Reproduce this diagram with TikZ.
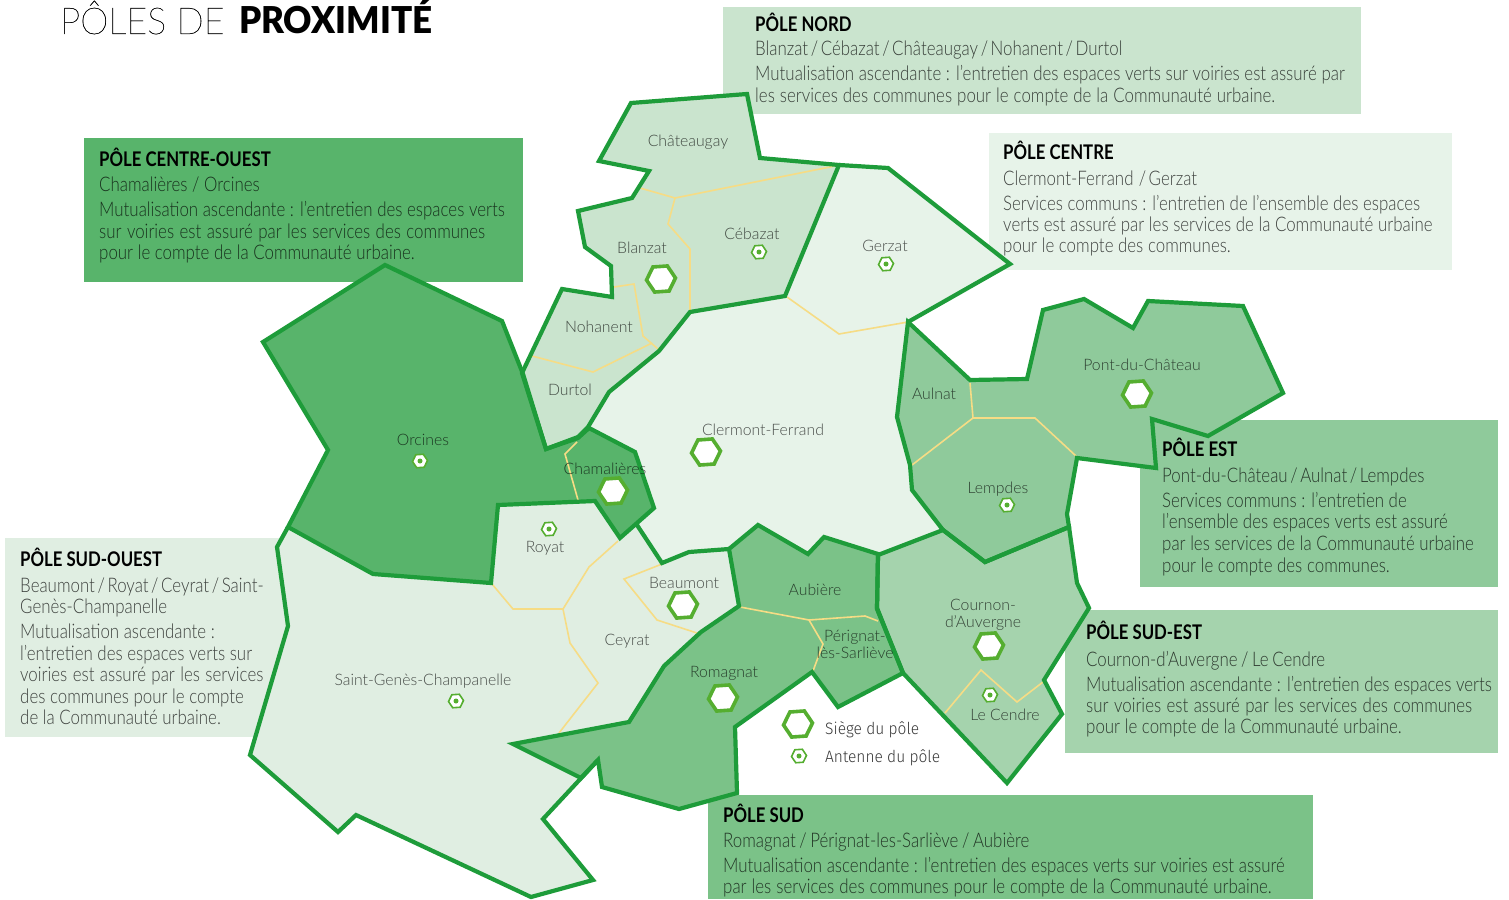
\documentclass[tikz,border=0pt]{standalone}
\usepackage{fontspec}
\usetikzlibrary{shapes.geometric}
\newfontfamily\bodyf{Lato Light}[FakeStretch=0.84]
\newfontfamily\headf{Lato}[FakeStretch=0.83,BoldFont={Lato Bold}]
\newfontfamily\labf{Lato Light}
\newfontfamily\thinf{Lato Thin}[FakeStretch=0.97,FakeBold=0.5]
\newfontfamily\blackf{Lato Black}[FakeStretch=0.945]
\newfontfamily\legf{Fira Sans Light}[FakeStretch=0.94]
\definecolor{cNord}{HTML}{CAE4CE}
\definecolor{cCentre}{HTML}{E7F3E9}
\definecolor{cCO}{HTML}{58B46B}
\definecolor{cSO}{HTML}{E0EEE2}
\definecolor{cEst}{HTML}{8FCA9B}
\definecolor{cSE}{HTML}{A5D3AD}
\definecolor{cSud}{HTML}{7BC288}
\definecolor{bord}{HTML}{1E9C3A}
\definecolor{yel}{HTML}{F6DC85}
\definecolor{hexc}{HTML}{55AE30}
\tikzset{
  pole/.style={draw=bord,line width=4.2pt,miter limit=10,line join=miter},
  lim/.style={draw=yel,line width=1.6pt},
  siege/.style={regular polygon,regular polygon sides=6,draw=hexc,fill=white,line width=3.6pt,inner sep=0pt,minimum size=29pt,shape border rotate=4},
  antenne/.style={regular polygon,regular polygon sides=6,draw=hexc,fill=white,line width=1.6pt,inner sep=0pt,minimum size=15pt,shape border rotate=4,
    path picture={\fill[hexc] (path picture bounding box.center) circle (2.5pt);}},
  lab/.style={font=\labf\fontsize{15.8}{17}\selectfont,text=black,text opacity=.68,align=center,inner sep=0pt,text height=10.5pt,text depth=.5pt},
  head/.style={anchor=base west,inner sep=0pt,font=\headf\bfseries\fontsize{20.2}{22}\selectfont,text=black},
  body/.style={anchor=base west,inner sep=0pt,font=\bodyf\fontsize{20.1}{22}\selectfont,text=black,text opacity=.72},
  cities/.style={body,execute at begin node={\spaceskip=2.6pt}},
  citiesB/.style={body,execute at begin node={\spaceskip=3.6pt}},
  wideA/.style={body,execute at begin node={\spaceskip=5pt}},
  wideB/.style={body,execute at begin node={\spaceskip=5.4pt}},
  leg/.style={anchor=base west,inner sep=0pt,font=\legf\fontsize{16.5}{18}\selectfont,text=black!78},
}
\begin{document}
\begin{tikzpicture}[x=1pt,y=-1pt]
\useasboundingbox (0,0) rectangle (1509,899);
% info boxes
\fill[cNord] (723,7) rectangle (1361,114);
\fill[cCentre] (989,133) rectangle (1452,270);
\fill[cCO] (84,138) rectangle (523,282);
\fill[cSO] (5,538) rectangle (290,737);
\fill[cEst] (1140,420) rectangle (1498,587);
\fill[cSE] (1065,610) rectangle (1498,753);
\fill[cSud] (708,795) rectangle (1313,899);
% poles
\path[fill=cSO] (288,527) -- (277,547) -- (288,626) -- (250,755) -- (338,832) -- (356,815) -- (531,897) -- (593,880) -- (543,819) -- (598,760) -- (581,778) -- (513,744) -- (629,722) -- (664,666) -- (701,632) -- (739,606) -- (729,549) -- (689,552) -- (662,563) -- (637,525) -- (620,538) -- (595,501) -- (498,505) -- (491,583) -- (373,574) -- cycle;
\path[fill=cCentre] (839,165) -- (888,168) -- (1010,264) -- (908,322) -- (897,417) -- (910,465) -- (912,490) -- (943,530) -- (878,555) -- (824,537) -- (808,554) -- (758,525) -- (729,549) -- (689,552) -- (662,563) -- (637,525) -- (654,508) -- (635,452) -- (589,428) -- (609,392) -- (659,351) -- (690,312) -- (785,296) -- cycle;
\path[fill=cNord] (631,103) -- (747,94) -- (760,158) -- (839,165) -- (785,296) -- (690,312) -- (659,351) -- (609,392) -- (588,427) -- (578,437) -- (546,449) -- (522,373) -- (562,289) -- (612,297) -- (611,266) -- (585,247) -- (578,211) -- (632,198) -- (649,171) -- (599,161) -- cycle;
\path[fill=cCO] (385,265) -- (502,321) -- (523,374) -- (546,449) -- (578,438) -- (589,428) -- (635,452) -- (654,508) -- (620,538) -- (595,501) -- (498,505) -- (491,583) -- (373,574) -- (288,527) -- (328,450) -- (263,342) -- cycle;
\path[fill=cEst] (908,322) -- (970,380) -- (1027,379) -- (1043,310) -- (1084,299) -- (1133,328) -- (1148,301) -- (1243,306) -- (1283,393) -- (1208,436) -- (1152,419) -- (1156,468) -- (1077,458) -- (1067,514) -- (1069,527) -- (985,562) -- (943,530) -- (912,490) -- (910,465) -- (897,417) -- cycle;
\path[fill=cSE] (943,530) -- (985,562) -- (1069,527) -- (1077,583) -- (1089,608) -- (1044,680) -- (1062,714) -- (1007,783) -- (903,673) -- (877,608) -- (878,555) -- cycle;
\path[fill=cSud] (729,549) -- (758,525) -- (808,554) -- (824,537) -- (878,554) -- (877,609) -- (903,673) -- (838,707) -- (812,672) -- (735,727) -- (737,793) -- (679,809) -- (602,787) -- (598,760) -- (581,778) -- (513,744) -- (629,722) -- (664,666) -- (701,632) -- (739,606) -- cycle;
% commune limits
\draw[lim] (640,188) -- (675,198) -- (835,166);
\draw[lim] (675,198) -- (668,224) -- (690,249) -- (690,310);
\draw[lim] (614,287) -- (634,284) -- (643,336) -- (658,349);
\draw[lim] (652,343) -- (593,372) -- (532,356);
\draw[lim] (787,297) -- (839,334) -- (908,322);
\draw[lim] (970,383) -- (973,418) -- (912,465);
\draw[lim] (973,418) -- (1035,418) -- (1076,456);
\draw[lim] (945,713) -- (981,670) -- (1017,702) -- (1043,682);
\draw[lim] (740,607) -- (809,620) -- (865,616) -- (878,621);
\draw[lim] (809,620) -- (823,644) -- (813,671);
\draw[lim] (492,584) -- (513,609) -- (563,609) -- (589,567) -- (618,541);
\draw[lim] (563,609) -- (570,643) -- (598,683) -- (559,733);
\draw[lim] (662,564) -- (624,579) -- (657,620) -- (697,633);
\draw[lim] (577,442) -- (565,454) -- (578,500);
% pole outlines
\draw[pole] (288,527) -- (277,547) -- (288,626) -- (250,755) -- (338,832) -- (356,815) -- (531,897) -- (593,880) -- (543,819) -- (598,760);
\draw[pole] (839,165) -- (888,168) -- (1010,264) -- (908,322);
\draw[pole] (637,525) -- (662,563) -- (689,552) -- (729,549);
\draw[pole] (631,103) -- (747,94) -- (760,158) -- (839,165) -- (785,296) -- (690,312) -- (659,351) -- (609,392) -- (588,427) -- (578,437) -- (546,449) -- (522,373) -- (562,289) -- (612,297) -- (611,266) -- (585,247) -- (578,211) -- (632,198) -- (649,171) -- (599,161) -- cycle;
\draw[pole] (385,265) -- (502,321) -- (523,374) -- (546,449) -- (578,438) -- (589,428) -- (635,452) -- (654,508) -- (620,538) -- (595,501) -- (498,505) -- (491,583) -- (373,574) -- (288,527) -- (328,450) -- (263,342) -- cycle;
\draw[pole] (908,322) -- (970,380) -- (1027,379) -- (1043,310) -- (1084,299) -- (1133,328) -- (1148,301) -- (1243,306) -- (1283,393) -- (1208,436) -- (1152,419) -- (1156,468) -- (1077,458) -- (1067,514) -- (1069,527) -- (985,562) -- (943,530) -- (912,490) -- (910,465) -- (897,417) -- cycle;
\draw[pole] (943,530) -- (985,562) -- (1069,527) -- (1077,583) -- (1089,608) -- (1044,680) -- (1062,714) -- (1007,783) -- (903,673) -- (877,608) -- (878,555) -- cycle;
\draw[pole] (729,549) -- (758,525) -- (808,554) -- (824,537) -- (878,554) -- (877,609) -- (903,673) -- (838,707) -- (812,672) -- (735,727) -- (737,793) -- (679,809) -- (602,787) -- (598,760) -- (581,778) -- (513,744) -- (629,722) -- (664,666) -- (701,632) -- (739,606) -- cycle;
% markers
\node[siege] (hBlanzat) at (661,279) {};
\node[siege] (hClermont) at (706,452) {};
\node[siege] (hChamalieres) at (613,491) {};
\node[siege] (hBeaumont) at (683,605) {};
\node[siege] (hRomagnat) at (723,698) {};
\node[siege] (hPont) at (1137,394) {};
\node[siege] (hCournon) at (989,646) {};
\node[siege,fill=none] (hLeg) at (798,724) {};
\node[antenne] (aCebazat) at (759,252) {};
\node[antenne] (aGerzat) at (886,264) {};
\node[antenne] (aOrcines) at (420,461) {};
\node[antenne] (aRoyat) at (549,529) {};
\node[antenne] (aSaint) at (456,701) {};
\node[antenne] (aLempdes) at (1007,505) {};
\node[antenne] (aCendre) at (990,695) {};
\node[antenne] (aLeg) at (799,756) {};
% commune labels
\node[lab] (lChateaugay) at (688,141) {Châteaugay};
\node[lab] (lCebazat) at (752,234) {Cébazat};
\node[lab] (lBlanzat) at (642,248) {Blanzat};
\node[lab] (lGerzat) at (885,246) {Gerzat};
\node[lab] (lNohanent) at (599,327) {Nohanent};
\node[lab] (lDurtol) at (570,390) {Durtol};
\node[lab] (lClermont) at (763,430) {Clermont-Ferrand};
\node[lab] (lAulnat) at (934,394) {Aulnat};
\node[lab] (lPont) at (1142,365) {Pont-du-Château};
\node[lab] (lLempdes) at (998,488) {Lempdes};
\node[lab] (lOrcines) at (423,440) {Orcines};
\node[lab] (lChamalieres) at (605,469) {Chamalières};
\node[lab] (lRoyat) at (545,547) {Royat};
\node[lab] (lBeaumont) at (684,583) {Beaumont};
\node[lab] (lCeyrat) at (627,640) {Ceyrat};
\node[lab] (lAubiere) at (815,590) {Aubière};
\node[lab] (lPerignat) at (855,653) {Pérignat-\\lès-Sarliève};
\node[lab] (lCournon) at (983,622) {Cournon-\\d’Auvergne};
\node[lab] (lRomagnat) at (724,672) {Romagnat};
\node[lab] (lCendre) at (1005,715) {Le Cendre};
\node[lab] (lSaint) at (423,680) {Saint-Genès-Champanelle};
% legend
\node[leg] (tSiege) at (825,734) {Siège du pôle};
\node[leg] (tAntenne) at (825,762) {Antenne du pôle};
% title
\node[anchor=base west,inner sep=0pt,font=\thinf\fontsize{37}{40}\selectfont,text=black] (titleA) at (60,34) {PÔLES DE};
\node[anchor=base west,inner sep=0pt,font=\blackf\fontsize{37}{40}\selectfont,text=black] (titleB) at (239,34) {PROXIMITÉ};
% texts: Nord
\node[head] (n0) at (755,31.5) {PÔLE NORD};
\node[cities] (n1) at (755,56) {Blanzat / Cébazat / Châteaugay / Nohanent / Durtol};
\node[body] (n2) at (755,81) {Mutualisation ascendante : l’entretien des espaces verts sur voiries est assuré par};
\node[wideA] (n3) at (755,102) {les services des communes pour le compte de la Communauté urbaine.};
% Centre
\node[head] (c0) at (1003,159) {PÔLE CENTRE};
\node[cities] (c1) at (1003,185) {Clermont-Ferrand~ / Gerzat};
\node[body] (c2) at (1003,210) {Services communs : l’entretien de l’ensemble des espaces};
\node[body] (c3) at (1003,231) {verts est assuré par les services de la Communauté urbaine};
\node[body] (c4) at (1003,252) {pour le compte des communes.};
% Centre-ouest
\node[head] (o0) at (99,166) {PÔLE CENTRE-OUEST};
\node[body] (o1) at (99,191) {Chamalières / Orcines};
\node[body] (o2) at (99,216) {Mutualisation ascendante : l’entretien des espaces verts};
\node[wideB] (o3) at (99,238) {sur voiries est assuré par les services des communes};
\node[body] (o4) at (99,259) {pour le compte de la Communauté urbaine.};
% Sud-ouest
\node[head] (s0) at (20,566) {PÔLE SUD-OUEST};
\node[cities] (s1) at (20,592) {Beaumont / Royat / Ceyrat / Saint-};
\node[body] (s2) at (20,613) {Genès-Champanelle};
\node[body] (s3) at (20,638) {Mutualisation ascendante :};
\node[body] (s4) at (20,660) {l’entretien des espaces verts sur};
\node[wideB] (s5) at (20,681) {voiries est assuré par les services};
\node[body] (s6) at (20,703) {des communes pour le compte};
\node[body] (s7) at (20,724) {de la Communauté urbaine.};
% Est
\node[head] (e0) at (1162,456) {PÔLE EST};
\node[cities] (e1) at (1162,482) {Pont-du-Château / Aulnat / Lempdes};
\node[body] (e2) at (1162,507) {Services communs : l’entretien de};
\node[body] (e3) at (1162,528) {l’ensemble des espaces verts est assuré};
\node[body] (e4) at (1162,550) {par les services de la Communauté urbaine};
\node[body] (e5) at (1162,572) {pour le compte des communes.};
% Sud-est
\node[head] (x0) at (1086,639) {PÔLE SUD-EST};
\node[citiesB] (x1) at (1086,666) {Cournon-d’Auvergne / Le Cendre};
\node[body] (x2) at (1086,691) {Mutualisation ascendante : l’entretien des espaces verts};
\node[wideB] (x3) at (1086,712) {sur voiries est assuré par les services des communes};
\node[body] (x4) at (1086,733) {pour le compte de la Communauté urbaine.};
% Sud
\node[head] (u0) at (723,822) {PÔLE SUD};
\node[citiesB] (u1) at (723,847) {Romagnat / Pérignat-les-Sarliève / Aubière};
\node[body] (u2) at (723,872) {Mutualisation ascendante : l’entretien des espaces verts sur voiries est assuré};
\node[wideA] (u3) at (723,893) {par les services des communes pour le compte de la Communauté urbaine.};
\end{tikzpicture}
\end{document}
